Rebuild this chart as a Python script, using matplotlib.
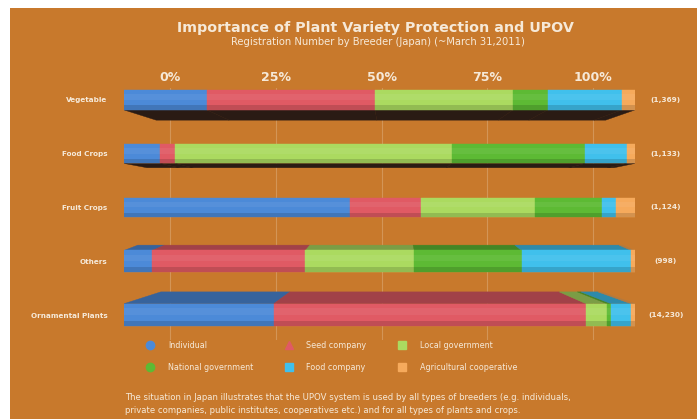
import numpy as np
import matplotlib.pyplot as plt
from matplotlib.patches import Rectangle, Polygon
from matplotlib.lines import Line2D
from matplotlib.colors import to_rgb

crops = ['Vegetable', 'Food Crops', 'Fruit Crops', 'Others', 'Ornamental Plants']
counts = ['(1,369)', '(1,133)', '(1,124)', '(998)', '(14,230)']
breeders = ['Individual', 'Seed company', 'Local government',
            'National government', 'Food company', 'Agricultural cooperative']

# share of registrations (%) per breeder type, one value per crop
individual = [16.2, 7.0, 44.2, 5.5, 29.3]
seed_company = [32.9, 2.9, 13.9, 30.0, 61.1]
local_gov = [27.0, 54.2, 22.3, 21.3, 4.1]
national_gov = [6.8, 26.2, 13.1, 21.0, 0.8]
food_company = [14.5, 8.2, 2.7, 21.5, 3.9]
agri_coop = [2.6, 1.5, 3.8, 0.7, 0.8]
pct_ticks = [0, 25, 50, 75, 100]

series = [individual, seed_company, local_gov, national_gov, food_company, agri_coop]
colors = ['#4C8AD8', '#E05A64', '#ABDA60', '#5DBA34', '#40C0EC', '#F6AA5C']
bg = '#C8792C'
txt = '#F6E9D8'

W, H = 697, 419
fig = plt.figure(figsize=(W / 100, H / 100), dpi=100, facecolor='white')
fig.patches.append(Rectangle((10 / W, 0), 1, 1 - 8 / H, transform=fig.transFigure,
                             facecolor=bg, edgecolor='none', zorder=-10))

ax = fig.add_axes([124 / W, 1 - 340 / H, 511 / W, (340 - 88) / H])
ax.set_facecolor('none')
ax.set_xlim(0, 100)
ax.set_ylim(4.465, -0.223)

# perspective of the back wall: 0% -> 9, 100% -> 91.8
def back(x):
    return 9 + x * 0.828

y = np.arange(len(crops))
heights = [0.37, 0.36, 0.36, 0.40, 0.42]
depth = [0.19, 0.08, 0.0, 0.10, 0.22]
shrink = [0.7, 0.5, 0.0, 0.3, 0.8]
below = [True, True, False, False, False]

for t in pct_ticks:
    ax.axvline(back(t), color=txt, alpha=0.25, lw=0.8, zorder=0)

left = np.zeros(len(crops))
for vals, c in zip(series, colors):
    vals = np.array(vals)
    for i in range(len(crops)):
        if depth[i] == 0:
            continue
        x0, x1 = left[i], left[i] + vals[i]
        bx0 = x0 + (back(x0) - x0) * shrink[i]
        bx1 = x1 + (back(x1) - x1) * shrink[i]
        if below[i]:
            ye = y[i] + heights[i] / 2
            yb = ye + depth[i]
            fc = '#2A1B14'
        else:
            ye = y[i] - heights[i] / 2
            yb = ye - depth[i]
            fc = tuple(v * 0.72 for v in to_rgb(c))
        ax.add_patch(Polygon([(x0, ye), (x1, ye), (bx1, yb), (bx0, yb)],
                             closed=True, facecolor=fc, edgecolor=fc, lw=0.3, zorder=1))
    ax.barh(y, vals, left=left, height=heights, color=c, edgecolor=c, lw=0.3, zorder=2)
    left += vals

# darker lower edge to give the bars a rounded look
hh = np.array(heights)
ax.barh(y + hh * 0.38, 100, height=hh * 0.24, color='black', alpha=0.14,
        edgecolor='none', zorder=3)
ax.barh(y - hh * 0.15, 100, height=hh * 0.3, color='white', alpha=0.06,
        edgecolor='none', zorder=3)

ax.xaxis.tick_top()
ax.set_xticks([back(t) for t in pct_ticks])
ax.set_xticklabels([f'{t}%' for t in pct_ticks], fontsize=9, fontweight='bold', color=txt)
ax.set_yticks(y)
ax.set_yticklabels(crops, fontsize=5.2, fontweight='bold', color=txt)
ax.tick_params(length=0, pad=3)
ax.tick_params(axis='y', pad=12)
for s in ax.spines.values():
    s.set_visible(False)

for i, lab in enumerate(counts):
    ax.text(106, y[i], lab, ha='center', va='center', fontsize=5.3,
            fontweight='bold', color=txt)

fig.text(375 / W, 1 - 28 / H, 'Importance of Plant Variety Protection and UPOV',
         ha='center', va='center', fontsize=10.3, fontweight='bold', color=txt)
fig.text(378 / W, 1 - 42 / H, 'Registration Number by Breeder (Japan) (~March 31,2011)',
         ha='center', va='center', fontsize=7.2, color=txt)

markers = ['o', '^', 's', 'o', 's', 's']
handles = [Line2D([], [], ls='none', marker=m, ms=6, color=c) for m, c in zip(markers, colors)]
order = [0, 3, 1, 4, 2, 5]
fig.legend([handles[k] for k in order], [breeders[k] for k in order], ncol=3,
           loc='upper left', bbox_to_anchor=(135 / W, 1 - 334 / H), frameon=False,
           fontsize=5.8, labelcolor=txt, columnspacing=3.4, handletextpad=1.2,
           labelspacing=1.6)

fig.text(125 / W, 1 - 397 / H,
         'The situation in Japan illustrates that the UPOV system is used by all types of breeders (e.g. individuals,',
         ha='left', va='center', fontsize=6.1, color=txt)
fig.text(125 / W, 1 - 410 / H,
         'private companies, public institutes, cooperatives etc.) and for all types of plants and crops.',
         ha='left', va='center', fontsize=6.1, color=txt)

fig.savefig('out.png', dpi=100, facecolor=fig.get_facecolor())
